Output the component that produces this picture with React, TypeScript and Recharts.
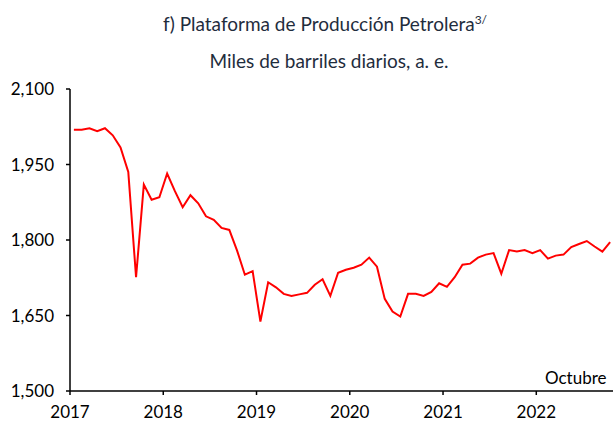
import { LineChart, Line, XAxis, YAxis } from 'recharts';

// Monthly oil production, thousands of barrels per day (Jan 2017 - Oct 2022)
const values2017 = [2019, 2019, 2022, 2016, 2022, 2008, 1984, 1935, 1726, 1910, 1880, 1885];
const values2018 = [1932, 1897, 1865, 1889, 1873, 1847, 1840, 1824, 1820, 1779, 1731, 1738];
const values2019 = [1638, 1716, 1706, 1693, 1689, 1692, 1695, 1711, 1722, 1689, 1735, 1741];
const values2020 = [1745, 1751, 1765, 1747, 1683, 1658, 1648, 1693, 1693, 1689, 1697, 1714];
const values2021 = [1707, 1726, 1751, 1753, 1765, 1771, 1774, 1733, 1780, 1777, 1780, 1774];
const values2022 = [1780, 1763, 1769, 1771, 1786, 1792, 1798, 1787, 1777, 1796];

const years = [2017, 2018, 2019, 2020, 2021, 2022];
const yTicks = [1500, 1650, 1800, 1950, 2100];

const allValues = [...values2017, ...values2018, ...values2019, ...values2020, ...values2021, ...values2022];
const data = allValues.map((v, i) => ({ idx: i, value: v }));
// year ticks sit on the boundary before each January
const xTicks = years.map((_, i) => i * 12 - 0.5);

const font = 'Lato, "Open Sans", sans-serif';
const fmt = (v: number) => v.toLocaleString('en-US');

export default function App() {
  return (
    <div style={{ position: 'absolute', left: 0, top: 0, width: 613, height: 422, background: '#fff', fontFamily: font, overflow: 'hidden' }}>
      <div style={{ position: 'absolute', left: 0, width: 650, top: 12, textAlign: 'center', fontSize: 19, color: '#1f2d3d', lineHeight: '24px' }}>
        f) Plataforma de Producción Petrolera<sup style={{ fontSize: 12, lineHeight: 0 }}>3/</sup>
      </div>
      <div style={{ position: 'absolute', left: 0, width: 658, top: 49, textAlign: 'center', fontSize: 19, color: '#1f2d3d', lineHeight: '24px' }}>
        Miles de barriles diarios, a. e.
      </div>
      <div style={{ position: 'absolute', left: 545, top: 367, fontSize: 17, color: '#000', lineHeight: '22px' }}>Octubre</div>
      <LineChart width={614} height={422} data={data} margin={{ top: 89, right: 0, left: 0, bottom: 0 }}>
        <XAxis
          dataKey="idx"
          type="number"
          domain={[-0.5, 69.5]}
          ticks={xTicks}
          tickFormatter={(v: number) => String(years[Math.round((v + 0.5) / 12)])}
          height={31}
          tickSize={4}
          tickMargin={11}
          stroke="#000"
          strokeWidth={1.5}
          tick={{ fill: '#000', fontSize: 17, fontFamily: font }}
          interval={0}
        />
        <YAxis
          domain={[1500, 2100]}
          ticks={yTicks}
          tickFormatter={fmt}
          width={70}
          tickSize={4}
          tickMargin={12}
          stroke="#000"
          strokeWidth={1.5}
          tick={{ fill: '#000', fontSize: 17, fontFamily: font }}
          interval={0}
        />
        <Line
          type="linear"
          dataKey="value"
          stroke="#ff0000"
          strokeWidth={2}
          dot={false}
          isAnimationActive={false}
        />
      </LineChart>
    </div>
  );
}
